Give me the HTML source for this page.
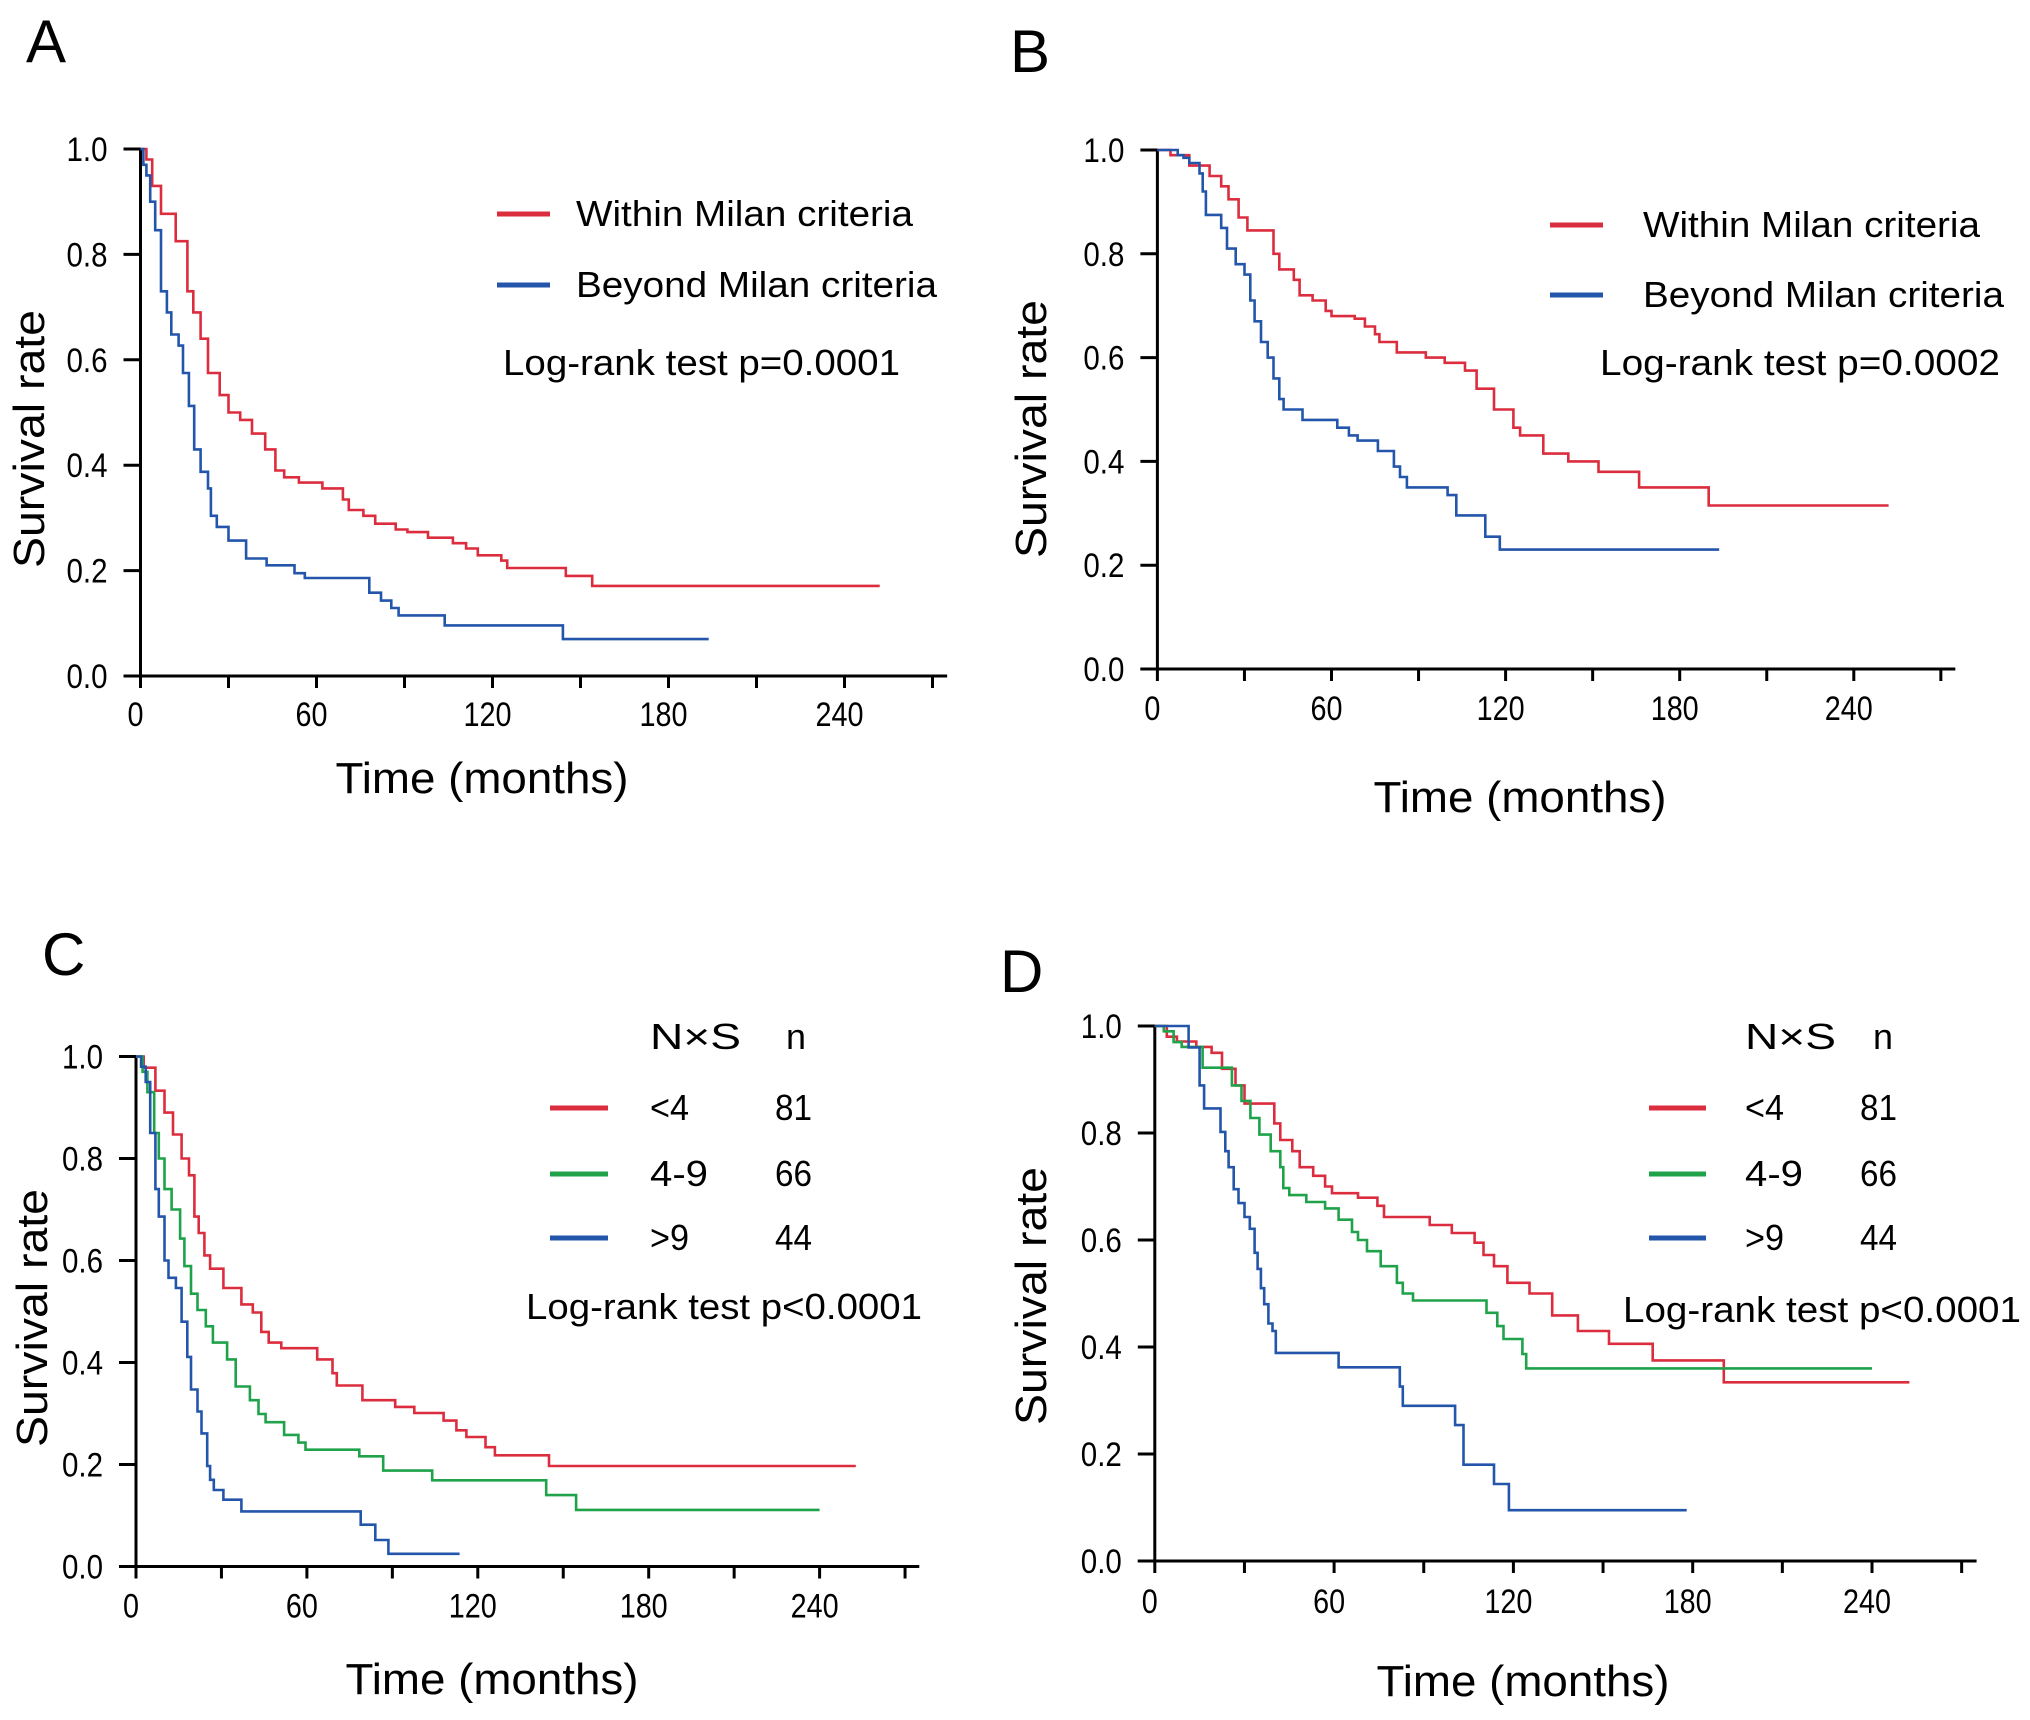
<!DOCTYPE html>
<html><head><meta charset="utf-8">
<style>
html,body{margin:0;padding:0;background:#fff;}
svg{display:block;}
text{font-family:"Liberation Sans","Noto Sans CJK JP",sans-serif;fill:#000;}
</style></head>
<body>
<svg id="fig" xmlns="http://www.w3.org/2000/svg" width="2030" height="1720" viewBox="0 0 2030 1720"></svg>
<script>
// ---- Data (months, survival) ----
const xTicks = [0, 60, 120, 180, 240];
const yTicks = [0.0, 0.2, 0.4, 0.6, 0.8, 1.0];

const aRedT = [2,4,7,12,16,18,20.5,23,27,30,34,38,42.5,46,49,54,62,69,71,76,80,87,91,98,106.5,111,115,123,125,145,154];
const aRedS = [0.98,0.93,0.877,0.825,0.73,0.69,0.64,0.575,0.533,0.50,0.486,0.46,0.43,0.39,0.377,0.367,0.356,0.335,0.315,0.304,0.289,0.278,0.273,0.2625,0.252,0.242,0.229,0.219,0.205,0.19,0.171];
const aRedEnd = 252;
const aBlueT = [1,2,3.3,5,7,9,10.5,13,14.5,16.5,18.3,20.5,23,24,26,30,36,43,52.5,56,78,82,85.5,88,103.7,144];
const aBlueS = [0.97,0.95,0.9,0.846,0.73,0.69,0.648,0.627,0.575,0.5125,0.43,0.3875,0.356,0.304,0.283,0.257,0.223,0.21,0.195,0.186,0.158,0.143,0.129,0.115,0.096,0.070];
const aBlueEnd = 193.7;

const bRedT = [4.5,11,18,22,24.5,28,31,40,42,47,49,53.5,58,60,68,71.5,75,76.5,82.5,92.5,99,106,110,116,122.7,125,133,141.6,152,166,190];
const bRedS = [0.99,0.97,0.95,0.93,0.905,0.87,0.845,0.80,0.77,0.75,0.72,0.71,0.69,0.68,0.675,0.66,0.645,0.63,0.61,0.60,0.59,0.575,0.54,0.50,0.465,0.45,0.415,0.40,0.38,0.35,0.315];
const bRedEnd = 252;
const bBlueT = [7,9,11,14.5,15.6,16.7,22,24,27,30,32,33.5,35.7,38,40,42,43.5,50,62,66,69,76,81.5,83.6,86,100,103,113,118];
const bBlueS = [0.99,0.985,0.975,0.955,0.92,0.875,0.85,0.81,0.78,0.76,0.71,0.67,0.63,0.60,0.56,0.52,0.50,0.48,0.465,0.45,0.44,0.42,0.39,0.37,0.35,0.335,0.296,0.255,0.23];
const bBlueEnd = 193.6;

const cRedT = [2.7,6.8,10,13,16,18.6,20.5,22,24,26,30.7,37,41,44,46.6,51,63.6,69,70.5,79.5,91,97.7,108,112.5,116,122.7,126,145];
const cRedS = [0.978,0.933,0.89,0.847,0.80,0.767,0.686,0.654,0.61,0.584,0.546,0.514,0.498,0.46,0.439,0.428,0.406,0.379,0.355,0.326,0.313,0.301,0.286,0.267,0.254,0.234,0.218,0.197];
const cRedEnd = 252.7;
const cGreenT = [2.3,4,6.4,8,10,12.5,15.5,17,19.3,21.6,24.5,27,32,35,40,43,45.5,52,57,59.5,78.4,86.8,104,144,154.5];
const cGreenS = [0.97,0.93,0.85,0.80,0.74,0.70,0.643,0.589,0.535,0.503,0.471,0.439,0.406,0.353,0.326,0.299,0.283,0.258,0.243,0.229,0.216,0.188,0.169,0.14,0.111];
const cGreenEnd = 240;
const cBlueT = [1.8,3.4,5,6.8,8,10,11.4,14,16,18,19.3,21.6,23,25,26,27.3,30.7,37,78.9,84,88.6];
const cBlueS = [0.98,0.95,0.85,0.74,0.686,0.60,0.566,0.546,0.48,0.411,0.347,0.304,0.261,0.197,0.17,0.15,0.131,0.108,0.082,0.052,0.025];
const cBlueEnd = 113.6;

const dRedT = [4,7.4,13.9,19,22.5,27,30,40,42,46,48.5,53,57,59.3,68,74.5,76.7,92,99.4,107,110,113.5,118,125.4,133,141.6,152,166.6,190.4];
const dRedS = [0.98,0.971,0.961,0.95,0.92,0.889,0.855,0.818,0.787,0.766,0.736,0.72,0.70,0.6875,0.679,0.664,0.643,0.628,0.613,0.595,0.572,0.551,0.52,0.5,0.459,0.43,0.406,0.375,0.334];
const dRedEnd = 252.5;
const dGreenT = [3,6.3,9,16,25.8,29,32,35,38.8,42,43,45,50.7,57,61.5,66,68,71,75.6,81,83,86.4,111,114.6,116.7,123,124.3];
const dGreenS = [0.99,0.97,0.961,0.922,0.889,0.86,0.828,0.797,0.766,0.736,0.697,0.684,0.671,0.659,0.638,0.615,0.60,0.579,0.551,0.52,0.50,0.487,0.464,0.439,0.415,0.387,0.36];
const dGreenEnd = 240;
const dBlueT = [11.3,15,16.5,22,23.6,24.7,26.4,28,30,31.8,33.4,34.4,35.5,36.6,38,39.4,40.5,61.5,82,83,100.5,103.3,113.5,118.5];
const dBlueS = [0.96,0.889,0.846,0.802,0.766,0.736,0.695,0.669,0.643,0.621,0.576,0.546,0.51,0.48,0.444,0.43,0.389,0.362,0.326,0.29,0.254,0.18,0.144,0.095];
const dBlueEnd = 178;

const RED = "#dc2d3f", BLUE = "#2356ab", GREEN = "#1fa24a";
const NS = "http://www.w3.org/2000/svg";
const svg = document.getElementById("fig");

function mk(tag, attrs, parent) {
  const e = document.createElementNS(NS, tag);
  for (const k in attrs) e.setAttribute(k, attrs[k]);
  (parent || svg).appendChild(e);
  return e;
}
function txt(parent, s, x, y, size, len, anchor) {
  const t = mk("text", {x: x, y: y, "font-size": size, "text-anchor": anchor || "start"}, parent);
  if (len) { t.setAttribute("textLength", len); t.setAttribute("lengthAdjust", "spacingAndGlyphs"); }
  t.textContent = s;
  return t;
}
function numLen(s) { let L = 0; for (const c of s) L += (c === ".") ? 9 : 16; return L; }

function drawPanel(p) {
  const g = mk("g", {});
  
  
  const X = m => p.ox + m * p.pxPerMonth;
  const Y = s => p.oy - s * p.h;

  const letter = txt(g, p.letter, p.lx, p.ly, 60, null);
  
  

  const axes = mk("g", {stroke: "#000", "stroke-width": 3, fill: "none"}, g);
  
  
  mk("line", {x1: p.ox, y1: Y(1) - 1, x2: p.ox, y2: p.oy + 1}, axes);
  mk("line", {x1: p.ox - 17, y1: p.oy, x2: X(p.xMax), y2: p.oy}, axes);
  for (let m = 0; m <= p.xMax; m += 30) {
    mk("line", {x1: X(m), y1: p.oy, x2: X(m), y2: p.oy + 12}, axes);
  }
  yTicks.forEach(v => {
    mk("line", {x1: p.ox - 17, y1: Y(v), x2: p.ox, y2: Y(v)}, axes);
    const s = v.toFixed(1);
    const t = txt(g, s, p.ox - 33, Y(v) + 12, 34, numLen(s), "end");
    
    
  });
  xTicks.forEach(v => {
    const s = String(v);
    const t = txt(g, s, X(v) - 5, p.oy + p.xlabDy + 2, 34, numLen(s), "middle");
    
    
  });
  const xt = txt(g, "Time (months)", p.xtx, p.xty, 44, 293, "middle");
  
  
  const yt = txt(g, "Survival rate", 0, 0, 44, 258, "middle");
  yt.setAttribute("transform", `translate(${p.ytx + 15},${p.yty}) rotate(-90)`);
  
  

  p.series.forEach(se => {
    let d = `M${X(0)},${Y(1)}`;
    for (let i = 0; i < se.t.length; i++) d += ` H${X(se.t[i]).toFixed(1)} V${Y(se.s[i]).toFixed(1)}`;
    d += ` H${X(se.end).toFixed(1)}`;
    const path = mk("path", {d: d, fill: "none", stroke: se.color, "stroke-width": 2.6}, g);
    
    
  });

  p.legend.forEach(L => {
    const ln = mk("line", {x1: L.x1, x2: L.x2, y1: L.y, y2: L.y, stroke: L.color, "stroke-width": 5}, g);
    
    
    const t = txt(g, L.text, L.tx, L.y + 12, 36, L.len);
    
    
    if (L.n) {
      const n = txt(g, L.n, L.nx, L.y + 12, 36, 37);
      
      
    }
  });
  if (p.header) {
    const h = txt(g, "N\u00d7S", p.header.x, p.header.y + 12, 36, 91);
    
    
    const hn = txt(g, "n", p.header.nx, p.header.y + 12, 36, 20);
    
    
  }
  const lr = txt(g, p.logrank.text, p.logrank.x, p.logrank.y + 12, 36, p.logrank.len);
  
  
}

drawPanel({id: "a", letter: "A", lx: 26, ly: 62, ox: 140.5, oy: 676, h: 527, pxPerMonth: 176/60, xMax: 275,
  xlabDy: 48, xtx: 482, xty: 793, ytx: 29, yty: 439,
  series: [{name: "within", t: aRedT, s: aRedS, end: aRedEnd, color: RED},
           {name: "beyond", t: aBlueT, s: aBlueS, end: aBlueEnd, color: BLUE}],
  legend: [{x1: 497, x2: 550, y: 214, color: RED, text: "Within Milan criteria", tx: 576, len: 337},
           {x1: 497, x2: 550, y: 285, color: BLUE, text: "Beyond Milan criteria", tx: 576, len: 361}],
  logrank: {text: "Log-rank test p=0.0001", x: 503, y: 363, len: 397}});

drawPanel({id: "b", letter: "B", lx: 1010, ly: 72, ox: 1157.4, oy: 669, h: 519, pxPerMonth: 174.1/60, xMax: 275,
  xlabDy: 49, xtx: 1520, xty: 812, ytx: 1031, yty: 429,
  series: [{name: "within", t: bRedT, s: bRedS, end: bRedEnd, color: RED},
           {name: "beyond", t: bBlueT, s: bBlueS, end: bBlueEnd, color: BLUE}],
  legend: [{x1: 1550, x2: 1603, y: 225, color: RED, text: "Within Milan criteria", tx: 1643, len: 337},
           {x1: 1550, x2: 1603, y: 295, color: BLUE, text: "Beyond Milan criteria", tx: 1643, len: 361}],
  logrank: {text: "Log-rank test p=0.0002", x: 1600, y: 363, len: 400}});

drawPanel({id: "c", letter: "C", lx: 42, ly: 975, ox: 136, oy: 1566.5, h: 510, pxPerMonth: 170.9/60, xMax: 275,
  xlabDy: 49, xtx: 492, xty: 1694, ytx: 32, yty: 1318,
  series: [{name: "lt4", t: cRedT, s: cRedS, end: cRedEnd, color: RED},
           {name: "4to9", t: cGreenT, s: cGreenS, end: cGreenEnd, color: GREEN},
           {name: "gt9", t: cBlueT, s: cBlueS, end: cBlueEnd, color: BLUE}],
  header: {x: 650, nx: 786, y: 1037},
  legend: [{x1: 550, x2: 608, y: 1108, color: RED, text: "<4", tx: 650, len: 39, n: "81", nx: 775},
           {x1: 550, x2: 608, y: 1174, color: GREEN, text: "4-9", tx: 650, len: 58, n: "66", nx: 775},
           {x1: 550, x2: 608, y: 1238, color: BLUE, text: ">9", tx: 650, len: 39, n: "44", nx: 775}],
  logrank: {text: "Log-rank test p<0.0001", x: 526, y: 1307, len: 396}});

drawPanel({id: "d", letter: "D", lx: 1000, ly: 992, ox: 1154.8, oy: 1561, h: 535, pxPerMonth: 179.3/60, xMax: 275,
  xlabDy: 50, xtx: 1523, xty: 1696, ytx: 1031, yty: 1296,
  series: [{name: "lt4", t: dRedT, s: dRedS, end: dRedEnd, color: RED},
           {name: "4to9", t: dGreenT, s: dGreenS, end: dGreenEnd, color: GREEN},
           {name: "gt9", t: dBlueT, s: dBlueS, end: dBlueEnd, color: BLUE}],
  header: {x: 1745, nx: 1873, y: 1037},
  legend: [{x1: 1649, x2: 1706, y: 1108, color: RED, text: "<4", tx: 1745, len: 39, n: "81", nx: 1860},
           {x1: 1649, x2: 1706, y: 1174, color: GREEN, text: "4-9", tx: 1745, len: 58, n: "66", nx: 1860},
           {x1: 1649, x2: 1706, y: 1238, color: BLUE, text: ">9", tx: 1745, len: 39, n: "44", nx: 1860}],
  logrank: {text: "Log-rank test p<0.0001", x: 1623, y: 1310, len: 398}});
</script>
</body></html>
